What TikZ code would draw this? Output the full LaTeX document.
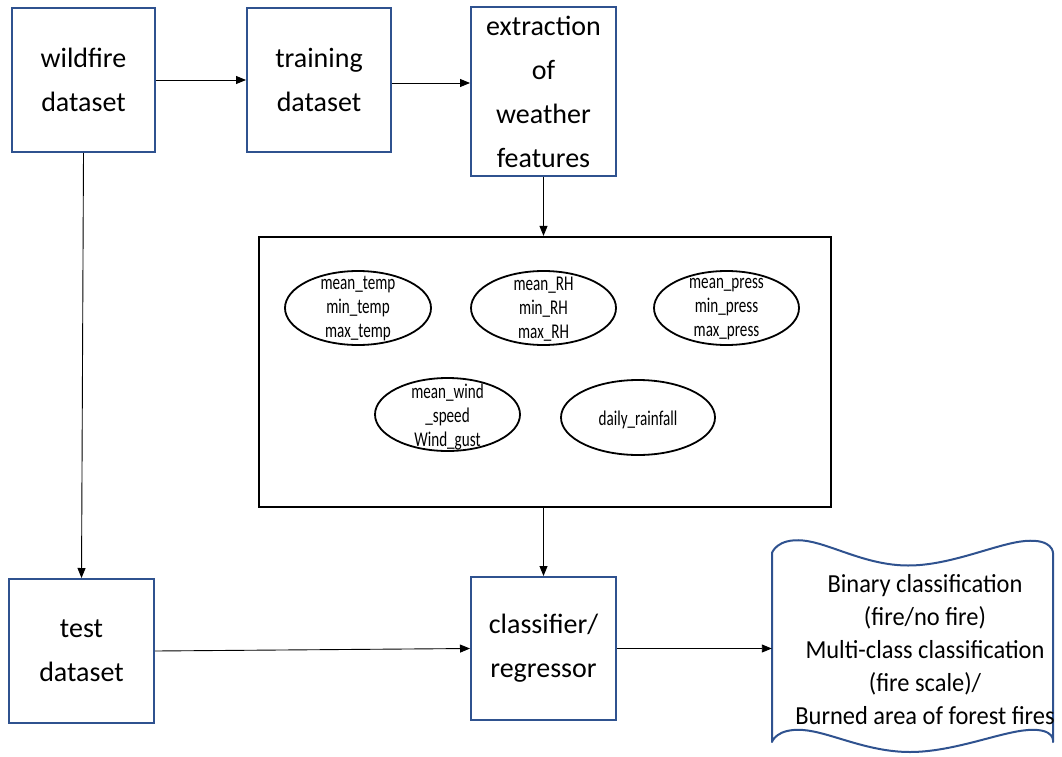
\documentclass[tikz,border=0pt]{standalone}
\usepackage{fontspec}
\setmainfont{Carlito}
\newfontfamily\narrowfont[FakeStretch=0.72]{Carlito}
\newfontfamily\docfont[FakeStretch=0.94]{Carlito}
\usetikzlibrary{arrows.meta,shapes.geometric}
\definecolor{boxblue}{RGB}{47,82,143}

\begin{document}
\begin{tikzpicture}[x=1pt,y=-1pt,
  stagebox/.style={draw=boxblue, line width=2pt, align=center, inner sep=0pt,
    font=\fontsize{28}{44}\selectfont},
  feat/.style={draw=black, line width=1.8pt, ellipse, inner sep=0pt},
  feattext/.style={align=center, inner sep=0pt,
    font=\narrowfont\fontsize{21}{24}\selectfont},
  flow/.style={draw=black, line width=0.9pt, -{Triangle[length=10pt,width=8pt]}},
]
\useasboundingbox (0,0) rectangle (1062,757);

% pipeline stages
\node[stagebox, minimum width=143pt, minimum height=144pt] (wildfire) at (83.5,80) {wildfire\\dataset};
\node[stagebox, minimum width=144pt, minimum height=144pt] (training) at (319,80) {training\\dataset};
\node[stagebox, minimum width=145pt, minimum height=169pt] (extract) at (543.5,91.5) {extraction\\of\\weather\\features};
\node[stagebox, minimum width=145pt, minimum height=144pt] (test) at (81.5,651) {test\\dataset};
\node[stagebox, minimum width=145pt, minimum height=143pt] (model) at (543.5,648.5) {classifier/\\regressor};

% panel of weather features
\node[draw=black, line width=2.2pt, minimum width=572pt, minimum height=270pt, inner sep=0pt] (panel) at (545,372) {};

\node[feat, minimum width=146pt, minimum height=74pt] (temp) at (358,308) {};
\node[feattext] (temptext) at (358,309) {mean\_temp\\min\_temp\\max\_temp};
\node[feat, minimum width=145pt, minimum height=74pt] (rh) at (543.5,308) {};
\node[feattext] (rhtext) at (543.5,309) {mean\_RH\\min\_RH\\max\_RH};
\node[feat, minimum width=145pt, minimum height=74pt] (press) at (726.5,308) {};
\node[feattext] (presstext) at (726.5,309) {mean\_press\\min\_press\\max\_press};
\node[feat, minimum width=145pt, minimum height=73pt] (wind) at (447.5,414.5) {};
\node[feattext] (windtext) at (447.5,417) {mean\_wind\\\_speed\\Wind\_gust};
\node[feat, minimum width=154pt, minimum height=75pt] (rain) at (638,417.5) {};
\node[feattext] (raintext) at (638,420) {daily\_rainfall};

% output document with wavy top and bottom
\node[minimum width=281pt, minimum height=189pt, inner sep=0pt] (result) at (912.5,647.5) {};
\draw[draw=boxblue, line width=2pt, line join=round]
  plot[smooth, tension=0.7] coordinates {(772,553) (803,540.5) (908,565.5) (1025,541) (1053,553)}
  -- plot[smooth, tension=0.7] coordinates {(1053,742) (1028,730) (910,752) (803,730) (772,742)}
  -- cycle;
\node[align=center, inner sep=0pt, font=\docfont\fontsize{26}{33}\selectfont]
  (resulttext) at (925,650) {Binary classification\\(fire/no fire)\\Multi-class classification\\(fire scale)/\\Burned area of forest fires};

% connectors
\draw[flow] (wildfire.east) -- (training.west);
\draw[flow] ([yshift=-3pt]training.east) -- ([yshift=-3pt]training.east -| extract.west);
\draw[flow] (extract.south) -- (extract.south |- panel.north);
\draw[flow] (wildfire.south) -- (test.north);
\draw[flow] (model.north |- panel.south) -- (model.north);
\draw[flow] (test.east) -- (model.west);
\draw[flow] (model.east) -- (model.east -| result.west);
\end{tikzpicture}
\end{document}
